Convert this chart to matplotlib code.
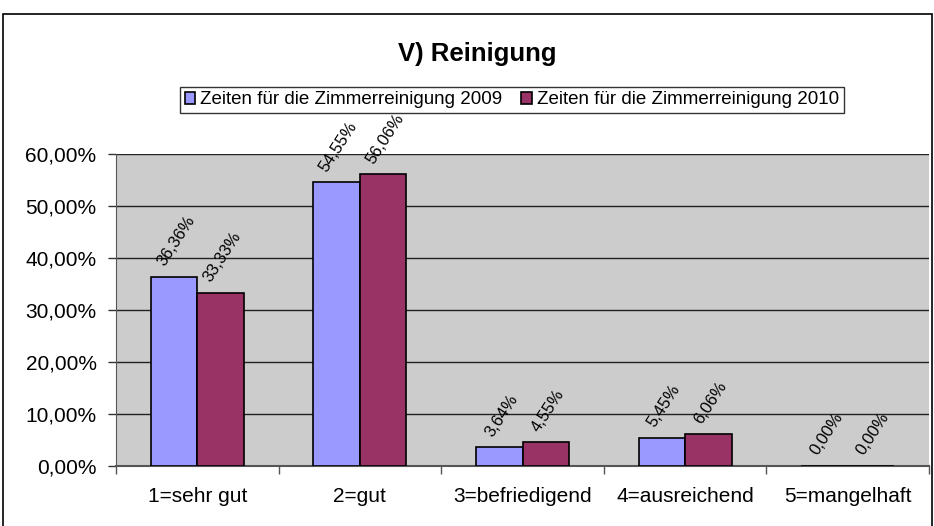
import matplotlib.pyplot as plt
import numpy as np
from matplotlib.patches import Rectangle

plt.rcParams['font.family'] = ['Liberation Sans', 'DejaVu Sans']

categories = ['1=sehr gut', '2=gut', '3=befriedigend', '4=ausreichend', '5=mangelhaft']
series_names = ['Zeiten für die Zimmerreinigung 2009', 'Zeiten für die Zimmerreinigung 2010']
values_2009 = [36.36, 54.55, 3.64, 5.45, 0.00]
values_2010 = [33.33, 56.06, 4.55, 6.06, 0.00]
colors = ['#9999FF', '#993366']


def pct(v):
    return ('%.2f%%' % v).replace('.', ',')


W, H = 934, 526
fig = plt.figure(figsize=(W / 100, H / 100), dpi=100)
# chart frame (bottom edge runs off the picture)
fig.patches.append(Rectangle((3 / W, -0.01), 929 / W, 1 - 14 / H + 0.01,
                             transform=fig.transFigure, fill=False,
                             edgecolor='black', linewidth=1.2))

ax = fig.add_axes([116 / W, 60 / H, 813 / W, 312 / H])
ax.set_facecolor('#CCCCCC')

x = np.arange(len(categories))
w = 1 / 3.5
bars = []
for i, (vals, col, name) in enumerate(zip([values_2009, values_2010], colors, series_names)):
    pos = x + (i - 0.5) * w
    b = ax.bar(pos, vals, w, color=col, edgecolor='black', linewidth=1.2,
               label=name, zorder=3)
    bars.append(b)
    for px_, v in zip(pos, vals):
        ax.annotate(pct(v), (px_, v), xytext=(2, 8), textcoords='offset pixels',
                    rotation=57, ha='center', va='bottom',
                    fontsize=12, zorder=4)

ax.set_xlim(-0.5, len(categories) - 0.5)
ax.set_ylim(0, 60)
ax.set_yticks(np.arange(0, 61, 10))
ax.set_yticklabels([pct(v) for v in np.arange(0, 61, 10)], fontsize=15)
ax.yaxis.grid(True, color='#222222', linewidth=1.0, zorder=1)
ax.set_axisbelow(True)

ax.set_xticks(x)
ax.set_xticklabels(categories, fontsize=15)
ax.set_xticks(np.arange(-0.5, len(categories)), minor=True)
ax.tick_params(axis='x', which='major', length=0, pad=15)
ax.tick_params(axis='x', which='minor', length=6, width=1, color='#555555')
ax.tick_params(axis='y', length=6, width=1, pad=8, color='#333333')

for s in ['top', 'right']:
    ax.spines[s].set_visible(False)
ax.spines['left'].set_color('#555555')
ax.spines['bottom'].set_color('#555555')
ax.spines['bottom'].set_linewidth(1.5)

fig.text(477 / W, 1 - 61 / H, 'V) Reinigung', ha='center', va='baseline',
         fontsize=18.5, fontweight='bold')

leg = fig.legend(handles=bars, labels=series_names, loc='center',
                 bbox_to_anchor=(512 / W, 1 - 100 / H), ncol=2,
                 fontsize=13.5, frameon=True, fancybox=False, edgecolor='black',
                 handlelength=0.55, handleheight=0.55, handletextpad=0.3,
                 columnspacing=1.0, borderpad=0.25)
leg.get_frame().set_linewidth(1.0)

fig.savefig('out.png', dpi=100)
